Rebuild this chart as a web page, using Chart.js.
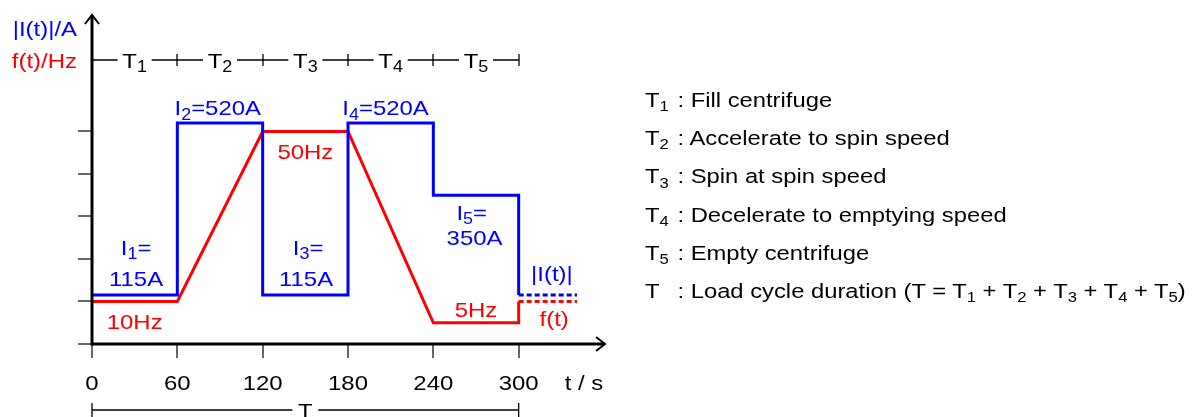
<!DOCTYPE html>
<html>
<head>
<meta charset="utf-8">
<script src="https://cdn.jsdelivr.net/npm/chart.js@4.4.1/dist/chart.umd.min.js"></script>
<style>
  html, body { margin: 0; padding: 0; background: #fff; }
  #wrap { position: relative; width: 1195px; height: 417px; overflow: hidden; }
  #chart { position: absolute; left: 0; top: 0; }
  #notes { position: absolute; left: 645px; top: 0; font-family: 'Liberation Sans', Arial, sans-serif; font-size: 20.5px; color: #000; }
  #notes div { position: absolute; left: 0; white-space: nowrap; line-height: 24px; transform: scaleX(1.16); transform-origin: 0 0; }
  #notes .sym { display: inline-block; width: 28px; }
  #notes sub { font-size: 0.7em; vertical-align: baseline; position: relative; top: 0.3em; }
</style>
</head>
<body>
<div id="wrap">
  <canvas id="chart" width="1195" height="417"></canvas>
  <div id="notes"></div>
</div>
<script>
// time axis (s)
const xTicks = [0, 60, 120, 180, 240, 300];
const phaseNames = ['1', '2', '3', '4', '5'];
const phaseNotes = ['Fill centrifuge', 'Accelerate to spin speed', 'Spin at spin speed',
  'Decelerate to emptying speed', 'Empty centrifuge'];

// |I(t)| in A
const currentTimes = [0, 60, 60, 120, 120, 180, 180, 240, 240, 300, 300];
const currentValues = [115, 115, 520, 520, 115, 115, 520, 520, 350, 350, 115];
const currentTail = [115, 115];

// f(t) in Hz
const freqTimes = [0, 60, 120, 180, 240, 300, 300];
const freqValues = [10, 10, 50, 50, 5, 5, 10];
const freqTail = [10, 10];

const tailTimes = [300, 341];
const yTickValues = [0, 100, 200, 300, 400, 500]; // A (10 Hz per step on the f axis)

const BLUE = '#0000ff';
const RED = '#ff0000';
const FONT = '"Liberation Sans", Arial, sans-serif';
const HS = 1.14; // the original lettering is a bit wider than Arial

const pts = (xs, ys) => xs.map((x, i) => ({ x: x, y: ys[i] }));

// text with subscripts, y = cap centre
function richText(ctx, parts, x, y, size, color, align) {
  const fontOf = sub => (sub ? size * 0.75 : size) + 'px ' + FONT;
  ctx.save();
  ctx.fillStyle = color;
  ctx.textBaseline = 'alphabetic';
  ctx.textAlign = 'left';
  let w = 0;
  parts.forEach(p => { ctx.font = fontOf(p[1]); w += ctx.measureText(p[0]).width; });
  const start = align === 'center' ? x - w * HS / 2 : (align === 'right' ? x - w * HS : x);
  ctx.translate(start, 0);
  ctx.scale(HS, 1);
  let cx = 0;
  const base = y + size * 0.358;
  parts.forEach(p => {
    ctx.font = fontOf(p[1]);
    ctx.fillText(p[0], cx, base + (p[1] ? size * 0.22 : 0));
    cx += ctx.measureText(p[0]).width;
  });
  ctx.restore();
  return w * HS;
}

// labels inside the plot, placed in data coordinates
const annotations = [
  { parts: [['I'], ['2', 1], ['=520A']], t: 58, v: 556, axis: 'yI', align: 'left', color: BLUE },
  { parts: [['I'], ['4', 1], ['=520A']], t: 176, v: 556, axis: 'yI', align: 'left', color: BLUE },
  { parts: [['I'], ['1', 1], ['=']], t: 31, v: 228, axis: 'yI', align: 'center', color: BLUE },
  { parts: [['115A']], t: 31, v: 153, axis: 'yI', align: 'center', color: BLUE },
  { parts: [['I'], ['3', 1], ['=']], t: 152, v: 228, axis: 'yI', align: 'center', color: BLUE },
  { parts: [['115A']], t: 150.5, v: 153, axis: 'yI', align: 'center', color: BLUE },
  { parts: [['I'], ['5', 1], ['=']], t: 267, v: 310, axis: 'yI', align: 'center', color: BLUE },
  { parts: [['350A']], t: 269, v: 250, axis: 'yI', align: 'center', color: BLUE },
  { parts: [['|I(t)|']], t: 323.4, v: 165, axis: 'yI', align: 'center', color: BLUE },
  { parts: [['50Hz']], t: 150, v: 45.4, axis: 'yF', align: 'center', color: RED },
  { parts: [['10Hz']], t: 30, v: 5.4, axis: 'yF', align: 'center', color: RED },
  { parts: [['5Hz']], t: 270, v: 8.2, axis: 'yF', align: 'center', color: RED },
  { parts: [['f(t)']], t: 325, v: 5.9, axis: 'yF', align: 'center', color: RED }
];

const axesPlugin = {
  id: 'axes',
  afterDatasetsDraw(chart) {
    const ctx = chart.ctx;
    const x = chart.scales.x, yI = chart.scales.yI;
    const x0 = x.getPixelForValue(0), y0 = yI.getPixelForValue(0);
    const xEnd = x.right + 1, yTop = yI.top;
    const seg = (a, b, c, d) => { ctx.beginPath(); ctx.moveTo(a, b); ctx.lineTo(c, d); ctx.stroke(); };
    ctx.save();

    // ticks
    ctx.strokeStyle = '#333'; ctx.lineWidth = 1.5;
    yTickValues.forEach(v => { const py = Math.round(yI.getPixelForValue(v)); seg(x0 - 14, py, x0, py); });
    xTicks.forEach(v => { const px = Math.round(x.getPixelForValue(v)); seg(px, y0, px, y0 + 14); });

    // axes with open arrow heads
    ctx.strokeStyle = '#000'; ctx.lineWidth = 3;
    seg(x0, y0, xEnd - 1, y0);
    seg(x0, y0 + 1.5, x0, yTop + 1);
    ctx.lineWidth = 2;
    ctx.beginPath(); ctx.moveTo(xEnd - 9, y0 - 7); ctx.lineTo(xEnd, y0); ctx.lineTo(xEnd - 9, y0 + 7); ctx.stroke();
    ctx.beginPath(); ctx.moveTo(x0 - 7, yTop + 9); ctx.lineTo(x0, yTop); ctx.lineTo(x0 + 7, yTop + 9); ctx.stroke();

    // x tick labels
    xTicks.forEach(v => richText(ctx, [[String(v)]], x.getPixelForValue(v), 382, 21, '#000', 'center'));
    richText(ctx, [['t / s']], 584, 382, 21, '#000', 'center');

    // axis names
    richText(ctx, [['|I(t)|/A']], 77, 28, 21, BLUE, 'right');
    richText(ctx, [['f(t)/Hz']], 77, 60, 21, RED, 'right');

    // phase row T1..T5
    const rowY = 60;
    const xLast = x.getPixelForValue(xTicks[xTicks.length - 1]);
    ctx.strokeStyle = '#000'; ctx.lineWidth = 1.3;
    seg(x0, rowY, xLast, rowY);
    xTicks.slice(1).forEach(v => { const px = Math.round(x.getPixelForValue(v)); seg(px, rowY - 6, px, rowY + 6); });
    phaseNames.forEach((n, i) => {
      const mid = x.getPixelForValue((xTicks[i] + xTicks[i + 1]) / 2);
      ctx.fillStyle = '#fff';
      ctx.fillRect(mid - 17, rowY - 14, 34, 30);
      richText(ctx, [['T'], [n, 1]], mid, rowY, 21, '#000', 'center');
    });

    // cycle bracket T
    const brY = y0 + 66;
    seg(x0, brY, xLast, brY);
    seg(x0, brY - 7, x0, brY + 7);
    seg(xLast, brY - 7, xLast, brY + 7);
    const bMid = (x0 + xLast) / 2;
    ctx.fillStyle = '#fff';
    ctx.fillRect(bMid - 13, brY - 10, 26, 20);
    richText(ctx, [['T']], bMid, brY, 21, '#000', 'center');

    // inline labels
    annotations.forEach(a => {
      const px = x.getPixelForValue(a.t);
      const py = chart.scales[a.axis].getPixelForValue(a.v);
      richText(ctx, a.parts, px, py, 21, a.color, a.align);
    });
    ctx.restore();
  }
};

const lineStyle = { pointRadius: 0, borderWidth: 3, tension: 0, clip: false,
  borderJoinStyle: 'miter', borderCapStyle: 'butt', fill: false };

new Chart(document.getElementById('chart'), {
  type: 'line',
  data: {
    datasets: [
      Object.assign({ label: '|I(t)|', data: pts(currentTimes, currentValues), yAxisID: 'yI', borderColor: BLUE }, lineStyle),
      Object.assign({ label: '|I(t)| tail', data: pts(tailTimes, currentTail), yAxisID: 'yI', borderColor: BLUE, borderDash: [5, 3] }, lineStyle),
      Object.assign({ label: 'f(t)', data: pts(freqTimes, freqValues), yAxisID: 'yF', borderColor: RED }, lineStyle),
      Object.assign({ label: 'f(t) tail', data: pts(tailTimes, freqTail), yAxisID: 'yF', borderColor: RED, borderDash: [5, 3] }, lineStyle)
    ]
  },
  options: {
    responsive: false,
    animation: false,
    devicePixelRatio: 1,
    layout: { padding: { left: 92, right: 591, top: 15, bottom: 73 } },
    plugins: { legend: { display: false }, tooltip: { enabled: false } },
    scales: {
      x: { type: 'linear', min: 0, max: 360, display: false },
      yI: { type: 'linear', position: 'left', min: 0, max: 774, display: false },
      yF: { type: 'linear', position: 'right', min: 0, max: 77.4, display: false }
    }
  },
  plugins: [axesPlugin]
});

// phase descriptions on the right
const notes = document.getElementById('notes');
phaseNotes.concat(['Load cycle duration (T = ' + phaseNames.map(n => 'T<sub>' + n + '</sub>').join(' + ') + ')'])
  .forEach((txt, i) => {
    const row = document.createElement('div');
    row.style.top = (100 + 38.2 * i - 12) + 'px';
    const sym = i < phaseNames.length ? 'T<sub>' + phaseNames[i] + '</sub>' : 'T';
    row.innerHTML = '<span class="sym">' + sym + '</span>: ' + txt;
    notes.appendChild(row);
  });
</script>
</body>
</html>
